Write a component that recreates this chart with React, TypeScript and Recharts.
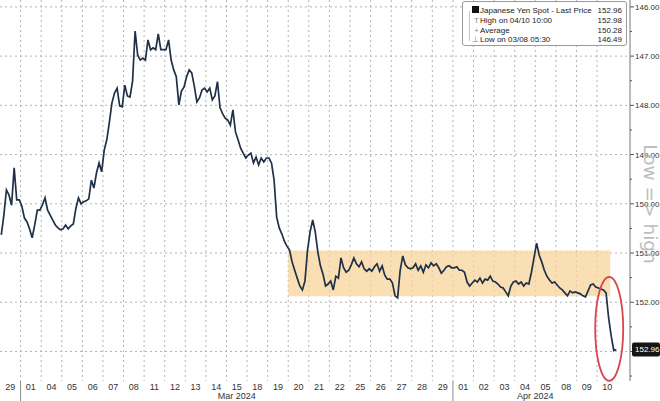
import React from 'react';
import {
  CartesianGrid,
  ComposedChart,
  Line,
  ReferenceArea,
  ReferenceDot,
  XAxis,
  YAxis,
} from 'recharts';

// trading days on the x axis, one slot each
const dayLabels = [
  '29', '01', '04', '05', '06', '07', '08', '11', '12', '13', '14', '15', '18', '19', '20',
  '21', '22', '25', '26', '27', '28', '29', '01', '02', '03', '04', '05', '08', '09', '10',
];
const monthLabels = ['Mar 2024', 'Apr 2024'];
const monthTicks = [11.5, 26];
const monthStarts = [1, 22];

// USDJPY spot, 8 readings per trading day
const lateFeb = [
  [150.63, 150.23, 149.72, 149.82, 150.03, 149.27, 149.92, 149.92], // Feb 29
  [150.05, 150.29, 150.37, 150.51, 150.69, 150.43, 150.13, 150.13], // Mar 01
];
const marWeek1 = [
  [150.02, 149.88, 150.13, 150.23, 150.33, 150.43, 150.49, 150.53],
  [150.51, 150.43, 150.51, 150.45, 150.41, 150.09, 149.88, 150.0],
  [149.96, 149.94, 149.9, 149.52, 149.68, 149.37, 149.17, 149.35],
  [148.91, 148.7, 148.34, 147.95, 147.75, 147.65, 148.01, 148.03],
  [147.59, 147.81, 147.83, 147.52, 146.49, 146.98, 147.08, 147.04],
];
const marWeek2 = [
  [147.08, 146.67, 146.87, 146.83, 146.87, 146.55, 146.87, 146.87],
  [146.87, 146.67, 147.08, 147.28, 147.42, 147.99, 147.71, 147.63],
  [147.42, 147.28, 147.34, 147.61, 147.93, 147.85, 147.69, 147.65],
  [147.73, 147.65, 147.89, 147.81, 147.52, 148.05, 148.17, 148.26],
  [148.3, 148.4, 148.09, 148.54, 148.7, 148.87, 148.97, 149.07],
];
const marWeek3 = [
  [149.01, 148.97, 149.17, 149.05, 149.21, 149.07, 149.15, 149.07],
  [149.07, 149.17, 149.52, 150.27, 150.49, 150.61, 150.76, 150.86],
  [150.94, 151.18, 151.35, 151.51, 151.67, 151.75, 151.57, 150.94],
  [150.57, 150.33, 150.57, 150.98, 151.26, 151.43, 151.67, 151.63],
  [151.57, 151.75, 151.47, 151.51, 151.1, 151.3, 151.39, 151.35],
];
const marWeek4 = [
  [151.24, 151.1, 151.22, 151.28, 151.18, 151.32, 151.37, 151.32],
  [151.37, 151.28, 151.22, 151.37, 151.26, 151.45, 151.53, 151.53],
  [151.61, 151.87, 151.91, 151.35, 151.06, 151.24, 151.3, 151.32],
  [151.3, 151.22, 151.35, 151.26, 151.39, 151.24, 151.3, 151.2],
  [151.26, 151.22, 151.3, 151.41, 151.35, 151.28, 151.26, 151.3],
];
const aprWeek1 = [
  [151.3, 151.28, 151.35, 151.35, 151.39, 151.59, 151.67, 151.61],
  [151.55, 151.59, 151.51, 151.61, 151.53, 151.55, 151.47, 151.57],
  [151.59, 151.63, 151.69, 151.71, 151.79, 151.87, 151.67, 151.59],
  [151.57, 151.63, 151.59, 151.67, 151.61, 151.63, 151.39, 151.1],
  [150.8, 151.04, 151.18, 151.35, 151.47, 151.55, 151.61, 151.59],
];
const aprWeek2 = [
  [151.65, 151.71, 151.75, 151.81, 151.87, 151.77, 151.81, 151.79],
  [151.81, 151.83, 151.87, 151.89, 151.77, 151.65, 151.63, 151.69],
  [151.71, 151.73, 151.75, 151.81, 152.32, 152.69, 152.98, 152.96],
];

const lastPrice = 152.96;
const yMajor = [146, 147, 148, 149, 150, 151, 152, 153];
const yMinor = [146.5, 147.5, 148.5, 149.5, 150.5, 151.5, 152.5, 153.5];
const legendRows = [
  { icon: 'last', label: 'Japanese Yen Spot - Last Price', value: '152.96' },
  { icon: 'high', label: 'High on 04/10 10:00', value: '152.98' },
  { icon: 'avg', label: 'Average', value: '150.28' },
  { icon: 'low', label: 'Low on 03/08 05:30', value: '146.49' },
];

const allDays = [...lateFeb, ...marWeek1, ...marWeek2, ...marWeek3, ...marWeek4, ...aprWeek1, ...aprWeek2];
const series = allDays.flatMap((vals, d) =>
  vals.map((price, j) => ({ t: d + (j + 0.5) / vals.length, price })),
);

const X_DOMAIN: [number, number] = [0, 30.6];
const AXIS_FONT = '"Liberation Sans", Arial, sans-serif';
const gridDays = allDays.slice(1).map((_, i) => i + 1);
const dayTicks = [...dayLabels.map((_, i) => i + 0.5), ...monthStarts, monthTicks[1]];
const priceTicks = [...yMajor, ...yMinor, lastPrice];

function PriceTick(props: any) {
  const { x, y, payload } = props;
  const v = payload.value;
  if (v === lastPrice) {
    return (
      <g>
        <rect x={x - 3} y={y - 7} width={28} height={14} rx={2} fill="#151515" />
        <text x={x} y={y + 3} fontSize={8} fill="#fff" fontFamily={AXIS_FONT}>
          {v.toFixed(2)}
        </text>
      </g>
    );
  }
  const major = Number.isInteger(v);
  return (
    <g>
      <line x1={x - 5} x2={major ? x - 1 : x - 3} y1={y} y2={y} stroke="#555" />
      {major && v !== 153 ? (
        <text x={x} y={y + 3} fontSize={8} fill="#333" fontFamily={AXIS_FONT}>
          {v.toFixed(2)}
        </text>
      ) : null}
    </g>
  );
}

// day numbers on the first row, month names under them, solid separators at month starts
function DayTick(props: any) {
  const { x, y, payload } = props;
  const v = payload.value;
  const m = monthTicks.indexOf(v);
  const month =
    m >= 0 ? (
      <text x={x} y={y + 18} textAnchor="middle" fontSize={9} fill="#333" fontFamily={AXIS_FONT}>
        {monthLabels[m]}
      </text>
    ) : null;
  if (monthStarts.includes(v)) {
    return <line x1={x} x2={x} y1={y} y2={y + 22} stroke="#8a8a8a" />;
  }
  if (Number.isInteger(v)) return month;
  return (
    <g>
      <text x={x} y={y + 9} textAnchor="middle" fontSize={9} fill="#333" fontFamily={AXIS_FONT}>
        {dayLabels[Math.floor(v)]}
      </text>
      {month}
    </g>
  );
}

function LegendIcon({ kind }: { kind: string }) {
  if (kind === 'last') return <span style={{ display: 'inline-block', width: 7, height: 7, background: '#111' }} />;
  const glyph = kind === 'high' ? 'T' : kind === 'avg' ? '+' : '\u22A5';
  return <span style={{ color: '#888', fontSize: 8 }}>{glyph}</span>;
}

export default function App() {
  return (
    <div style={{ position: 'absolute', left: 0, top: 0, width: 660, height: 401, background: '#fff' }}>
      <ComposedChart width={660} height={401} data={series} margin={{ top: 0, right: 0, bottom: 0, left: 0 }}>
        <CartesianGrid
          stroke="#b3b3b3"
          strokeDasharray="2 3"
          horizontalValues={yMajor}
          verticalValues={gridDays}
        />
        <XAxis
          dataKey="t"
          type="number"
          domain={X_DOMAIN}
          allowDataOverflow
          ticks={dayTicks}
          interval={0}
          tick={<DayTick />}
          tickLine={false}
          axisLine={false}
          tickSize={0}
          tickMargin={0}
          height={20}
        />
        <YAxis
          orientation="right"
          type="number"
          domain={[145.86, 153.6]}
          allowDataOverflow
          reversed
          ticks={priceTicks}
          interval={0}
          tick={<PriceTick />}
          tickLine={false}
          tickSize={4}
          tickMargin={1}
          axisLine={{ stroke: '#777' }}
          width={30}
        />
        <ReferenceArea x1={14} x2={29.64} y1={150.95} y2={151.88} fill="#F7D49A" fillOpacity={0.75} stroke="none" />
        <Line
          type="linear"
          dataKey="price"
          stroke="#1f3047"
          strokeWidth={1.7}
          dot={false}
          activeDot={false}
          isAnimationActive={false}
        />
        <ReferenceDot
          x={29.59}
          y={152.54}
          r={1}
          shape={(p: any) => (
            <ellipse cx={p.cx} cy={p.cy} rx={14} ry={52} fill="none" stroke="#D8464F" strokeWidth={1.8} />
          )}
        />
      </ComposedChart>

      <div
        style={{
          position: 'absolute',
          left: 585,
          top: 197,
          width: 130,
          height: 14,
          lineHeight: '14px',
          textAlign: 'center',
          transform: 'rotate(90deg)',
          fontFamily: '"DejaVu Sans", sans-serif',
          fontSize: 18.5,
          color: '#bdbdbd',
          pointerEvents: 'none',
          whiteSpace: 'nowrap',
        }}
      >
        Low =&gt; high
      </div>

      <div
        style={{
          position: 'absolute',
          left: 462,
          top: 1,
          width: 165,
          height: 45,
          boxSizing: 'border-box',
          border: '1px solid #9a9a9a',
          borderRadius: 3,
          background: '#fff',
          paddingTop: 4,
          fontFamily: AXIS_FONT,
          fontSize: 8,
          color: '#222',
        }}
      >
        <div style={{ position: 'absolute', left: 6, top: 9, width: 1, height: 30, background: '#c4c4c4' }} />
        {legendRows.map((row) => (
          <div key={row.label} style={{ display: 'flex', alignItems: 'center', height: 9.7 }}>
            <div style={{ flex: '0 0 17px', textAlign: 'right', paddingRight: 1, boxSizing: 'border-box' }}>
              <LegendIcon kind={row.icon} />
            </div>
            <div style={{ flex: 1, whiteSpace: 'nowrap' }}>{row.label}</div>
            <div style={{ paddingRight: 4 }}>{row.value}</div>
          </div>
        ))}
      </div>
    </div>
  );
}
